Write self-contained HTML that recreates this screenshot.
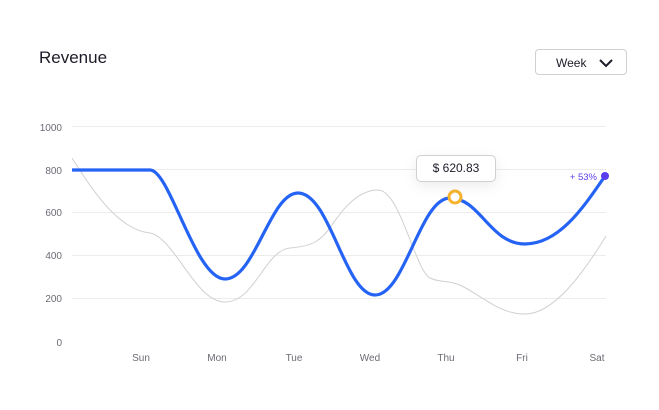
<!DOCTYPE html>
<html><head><style>
body{margin:0;width:659px;height:410px;background:#fff;font-family:"Liberation Sans",sans-serif;position:relative;overflow:hidden}
.t{position:absolute;left:39px;top:48px;font-size:17px;color:#1c1c28}
.btn{position:absolute;left:535px;top:49px;width:92px;height:26px;border:1px solid #cfcfd4;border-radius:4px;box-sizing:border-box}
.btn span{position:absolute;left:20px;top:6px;font-size:12px;color:#1c1c28}
.tip{position:absolute;left:416px;top:155px;width:80px;height:27px;border:1px solid #cfcfd4;border-radius:5px;box-sizing:border-box;background:#fff;box-shadow:0 4px 14px rgba(0,0,0,.08);font-size:12px;color:#1c1c28;text-align:center;line-height:25px}
</style></head><body>
<div class="t">Revenue</div>
<div class="btn"><span>Week</span><svg style="position:absolute;left:63px;top:8px" width="14" height="10"><path d="M1 2 L7 8 L13 2" fill="none" stroke="#1c1c28" stroke-width="2"/></svg></div>
<svg width="659" height="410" style="position:absolute;left:0;top:0">
<g stroke="#ececec" stroke-width="1">
<line x1="72" x2="606" y1="126.5" y2="126.5"/><line x1="72" x2="606" y1="169.5" y2="169.5"/><line x1="72" x2="606" y1="212.5" y2="212.5"/><line x1="72" x2="606" y1="255.5" y2="255.5"/><line x1="72" x2="606" y1="298.5" y2="298.5"/>
</g>
<g font-size="10" fill="#6b6b75" text-anchor="end">
<text x="62" y="131">1000</text><text x="62" y="174">800</text><text x="62" y="216">600</text><text x="62" y="259">400</text><text x="62" y="302">200</text><text x="62" y="346">0</text>
</g>
<g font-size="10" fill="#6b6b75" text-anchor="middle">
<text x="141" y="361">Sun</text><text x="217" y="361">Mon</text><text x="294" y="361">Tue</text><text x="370" y="361">Wed</text><text x="446" y="361">Thu</text><text x="522" y="361">Fri</text><text x="597" y="361">Sat</text>
</g>
<path d="M72 158 C95 195,120 230,150 233 C175 238,195 302,225 302 C255 302,265 250,290 248 C315 246,320 240,330 228 C345 205,360 190,378 190 C400 190,415 270,430 278 C440 283,450 280,462 286 C485 298,500 314,525 314 C555 314,585 270,606 236" fill="none" stroke="#d0d0d0" stroke-width="1"/>
<path d="M72 170 L150 170 C170 170,195 279,225 279 C255 279,270 193,298 193 C330 193,345 295,375 295 C405 295,420 198,450 198 C480 198,490 244,525 244 C560 244,585 205,605 176" fill="none" stroke="#2563f5" stroke-width="3.2"/>
<circle cx="455" cy="197" r="6" fill="#fff" stroke="#f5b32e" stroke-width="3"/>
<circle cx="605" cy="176" r="4" fill="#5b3df0"/>
<text x="597" y="180" font-size="9.5" fill="#5b3df0" text-anchor="end">+ 53%</text>
</svg>
<div class="tip">$ 620.83</div>
</body></html>
